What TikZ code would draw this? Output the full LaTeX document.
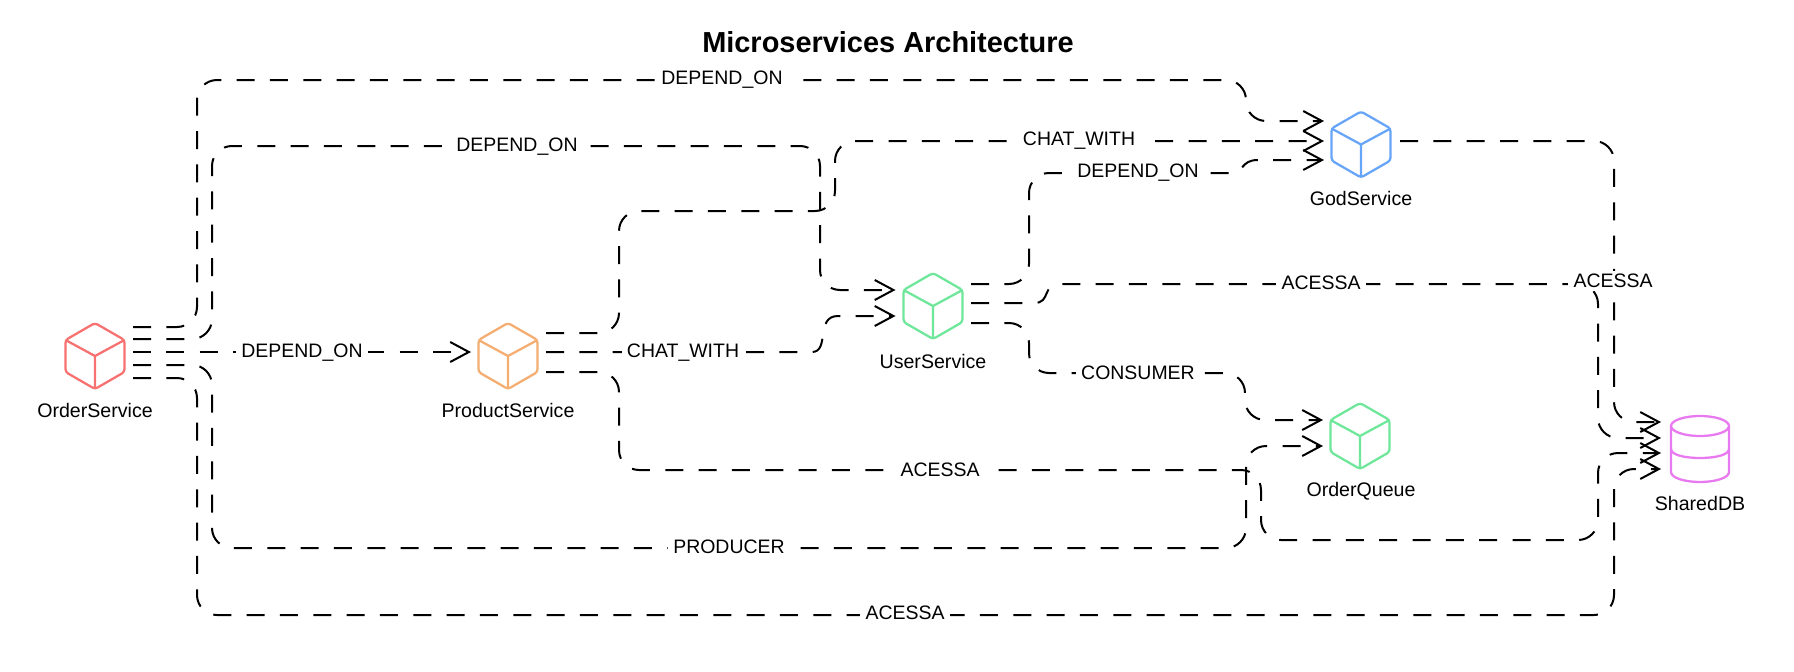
\documentclass[tikz,border=0pt]{standalone}
\usepackage{fontspec}
\setmainfont{Liberation Sans}
\usetikzlibrary{arrows.meta,calc}
\definecolor{cred}{HTML}{F87171}
\definecolor{corange}{HTML}{F5AE72}
\definecolor{cgreen}{HTML}{6EE79A}
\definecolor{cblue}{HTML}{67A5F8}
\definecolor{cpink}{HTML}{E879F0}
\tikzset{
  cube/.pic={
    \draw[pic actions,line width=1.7pt,rounded corners=2.2pt,line join=round]
      (0,-33)--(29.5,-16)--(29.5,16)--(0,33)--(-29.5,16)--(-29.5,-16)--cycle;
    \draw[pic actions,line width=1.7pt,line join=round]
      (-29.5,-16)--(0,0)--(29.5,-16) (0,0)--(0,33);
  },
  dbicon/.pic={
    \draw[pic actions,line width=1.7pt] (0,-23) ellipse [x radius=29,y radius=10];
    \draw[pic actions,line width=1.7pt] (-29,-23)--(-29,23) .. controls (-29,29) and (-15,33) .. (0,33) .. controls (15,33) and (29,29) .. (29,23)--(29,-23);
    \draw[pic actions,line width=1.7pt] (-29,0) .. controls (-29,6) and (-15,9) .. (0,9) .. controls (15,9) and (29,6) .. (29,0);
  },
  iconbox/.style={minimum width=45pt,minimum height=49.5pt,inner sep=0pt,outer sep=0pt},
  namelabel/.style={font=\fontsize{14.7pt}{17pt}\selectfont,inner sep=0pt},
  edgelabel/.style={font=\fontsize{14.6pt}{17pt}\selectfont,fill=white,inner xsep=4pt,inner ysep=2pt},
  link/.style={draw=black,line width=1.5pt,rounded corners=15pt,dash pattern=on 13.5pt off 11.5pt,-{Straight Barb[length=14pt,width=15pt,line width=1.5pt]}}
}
\begin{document}
\begin{tikzpicture}[x=0.75pt,y=-0.75pt]
\path[use as bounding box,fill=white] (0,0) rectangle (1794,671);
\node[font=\bfseries\fontsize{21.7pt}{25pt}\selectfont,inner sep=0pt] (title) at (888,42) {Microservices Architecture};

\node[iconbox] (OS) at (95,356) {};
\node[iconbox] (PD) at (508,356) {};
\node[iconbox] (US) at (933,306) {};
\node[iconbox] (GD) at (1361,144.5) {};
\node[iconbox] (QU) at (1360,436) {};
\node[iconbox] (DB) at (1700,449) {};

\pic[draw=cred] at (OS) {cube};
\pic[draw=corange] at (PD) {cube};
\pic[draw=cgreen] at (US) {cube};
\pic[draw=cblue] at (GD) {cube};
\pic[draw=cgreen] at (QU) {cube};
\pic[draw=cpink] at (DB) {dbicon};

\node[namelabel] (OSname) at (95,410) {OrderService};
\node[namelabel] (PDname) at (508,410) {ProductService};
\node[namelabel] (USname) at (933,361) {UserService};
\node[namelabel] (GDname) at (1361,198) {GodService};
\node[namelabel] (QUname) at (1361,491) {OrderQueue};
\node[namelabel] (DBname) at (1700,503) {SharedDB};

% ports
\coordinate (OSa) at ($(OS.east)+(8,-29)$);
\coordinate (OSb) at ($(OS.east)+(8,-17)$);
\coordinate (OSc) at ($(OS.east)+(8,-4)$);
\coordinate (OSd) at ($(OS.east)+(8,9)$);
\coordinate (OSe) at ($(OS.east)+(8,22)$);
\coordinate (PDa) at ($(PD.east)+(8,-23)$);
\coordinate (PDb) at ($(PD.east)+(8,-4)$);
\coordinate (PDc) at ($(PD.east)+(8,16)$);
\coordinate (PDin) at ($(PD.west)+(-7,-4)$);
\coordinate (USa) at ($(US.east)+(8,-22)$);
\coordinate (USb) at ($(US.east)+(8,-3)$);
\coordinate (USc) at ($(US.east)+(8,17)$);
\coordinate (USi) at ($(US.west)+(-7.5,-16)$);
\coordinate (USj) at ($(US.west)+(-7.5,10)$);
\coordinate (GDi) at ($(GD.west)+(-7,-23.5)$);
\coordinate (GDj) at ($(GD.west)+(-7,-3.5)$);
\coordinate (GDk) at ($(GD.west)+(-7,15.5)$);
\coordinate (GDo) at ($(GD.east)+(9,-3.5)$);
\coordinate (QUi) at ($(QU.west)+(-7,-16)$);
\coordinate (QUj) at ($(QU.west)+(-7,10)$);
\coordinate (DBi) at ($(DB.west)+(-9,-27)$);
\coordinate (DBj) at ($(DB.west)+(-9,-11)$);
\coordinate (DBk) at ($(DB.west)+(-9,4)$);
\coordinate (DBl) at ($(DB.west)+(-9,20)$);

\draw[link] (OSa)--(197,327)--(197,80)--(1246,80)--(1246,121)--(GDi);
\draw[link] (OSb)--(212,339)--(212,146)--(820,146)--(820,290)--(USi);
\draw[link] (OSc)--(PDin);
\draw[link] (OSd)--(212,365)--(212,548)--(1246,548)--(1246,446)--(QUj);
\draw[link] (OSe)--(197,378)--(197,615)--(1614,615)--(1614,469)--(DBl);
\draw[link] (PDa)--(619,333)--(619,211)--(835,211)--(835,141)--(GDj);
\draw[link,sharp corners] (PDb)--(812,352) .. controls (830,352) and (815,316) .. (838,316)--(USj);
\draw[link] (PDc)--(619,372)--(619,470)--(1261,470)--(1261,540)--(1598,540)--(1598,453)--(DBk);
\draw[link] (USa)--(1029,284)--(1029,173)[sharp corners]--(1230,173) .. controls (1245,173) and (1240,160) .. (1258,160)--(GDk);
\draw[link,sharp corners] (USb)--(1034,303) .. controls (1052,303) and (1040,284) .. (1062,284)[rounded corners=15pt]--(1598,284)--(1598,438)--(DBj);
\draw[link] (USc)--(1029,323)--(1029,373)--(1245,373)--(1245,420)--(QUi);
\draw[link] (GDo)--(1614,141)--(1614,422)--(DBi);

\node[edgelabel] (l1) at (722,80) {DEPEND\_ON};
\node[edgelabel] (l2) at (517,147) {DEPEND\_ON};
\node[edgelabel] (l3) at (302,353) {DEPEND\_ON};
\node[edgelabel] (l4) at (729,547) {PRODUCER};
\node[edgelabel] (l5) at (905,613) {ACESSA};
\node[edgelabel] (l6) at (1079,141) {CHAT\_WITH};
\node[edgelabel] (l7) at (683,353) {CHAT\_WITH};
\node[edgelabel] (l8) at (940,470) {ACESSA};
\node[edgelabel] (l9) at (1138,173) {DEPEND\_ON};
\node[edgelabel] (l10) at (1321,283) {ACESSA};
\node[edgelabel] (l11) at (1138,373) {CONSUMER};
\node[edgelabel] (l12) at (1613,281) {ACESSA};
\end{tikzpicture}
\end{document}
